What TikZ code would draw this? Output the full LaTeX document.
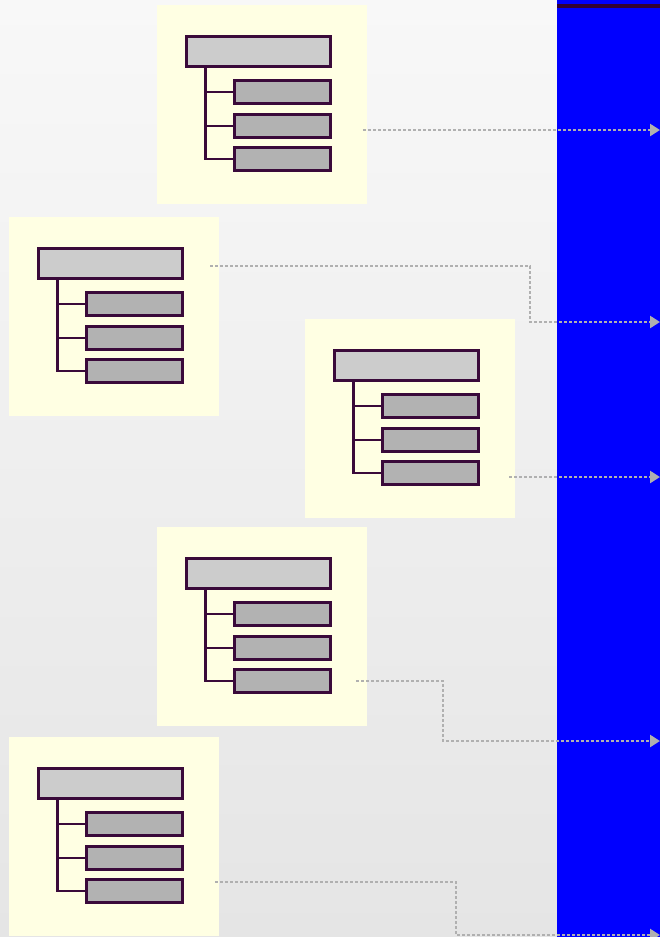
\documentclass[tikz,border=0pt]{standalone}
\usetikzlibrary{arrows.meta}
\definecolor{bgtop}{HTML}{F8F8F8}
\definecolor{bgbot}{HTML}{E5E5E5}
\definecolor{panelyellow}{HTML}{FFFFE3}
\definecolor{boxline}{HTML}{3A0A3A}
\definecolor{headfill}{HTML}{CCCCCC}
\definecolor{childfill}{HTML}{B2B2B2}
\definecolor{linkgray}{HTML}{B0B0B0}
\definecolor{sideblue}{HTML}{0000FF}
\definecolor{topbar}{HTML}{330033}
\begin{document}
\begin{tikzpicture}[x=1pt,y=-1pt,
 panel/.style={fill=panelyellow, draw=none, anchor=north west, minimum width=210pt, minimum height=199pt, inner sep=0pt, outer sep=0pt},
 headbox/.style={draw=boxline, line width=2.4pt, fill=headfill, anchor=north west, minimum width=144pt, minimum height=30pt, inner sep=0pt, outer sep=0pt},
 childbox/.style={draw=boxline, line width=2.4pt, fill=childfill, anchor=north west, minimum width=96pt, minimum height=23pt, inner sep=0pt, outer sep=0pt},
 treeline/.style={draw=boxline, line width=2.4pt},
 link/.style={draw=linkgray, line width=2.5pt, dash pattern=on 2.5pt off 2.5pt, -{Triangle[length=10pt,width=12pt,fill=linkgray,sep=0pt]}}
]
\useasboundingbox (0,0) rectangle (660,937);
\clip (0,0) rectangle (660,937);
\shade[top color=bgtop, bottom color=bgbot] (0,0) rectangle (557,937);
\fill[sideblue] (557,0) rectangle (660,937);
\fill[topbar] (557,4) rectangle (660,8);

\foreach \i/\px/\py in {1/157/5, 2/9/217, 3/305/319, 4/157/527, 5/9/737} {
  \node[panel] (p\i) at (\px,\py) {};
  \node[headbox] (h\i) at (\px+29.5,\py+31.5) {};
  \node[childbox] (a\i) at (\px+77.5,\py+75.5) {};
  \node[childbox] (b\i) at (\px+77.5,\py+109.5) {};
  \node[childbox] (c\i) at (\px+77.5,\py+142.5) {};
  \draw[treeline] ([xshift=19pt]h\i.south west) |- (c\i.west);
  \draw[treeline] ([xshift=-29pt]a\i.west) -- (a\i.west);
  \draw[treeline] ([xshift=-29pt]b\i.west) -- (b\i.west);
}

\coordinate (s1) at (363,130);
\coordinate (e1) at (660,130);
\draw[link] (s1) -- (e1);

\coordinate (s2) at (210,266);
\coordinate (k2) at (530,322);
\coordinate (e2) at (660,322);
\draw[link] (s2) -| (k2) -- (e2);

\coordinate (s3) at (509,477);
\coordinate (e3) at (660,477);
\draw[link] (s3) -- (e3);

\coordinate (s4) at (356,681);
\coordinate (k4) at (443,741);
\coordinate (e4) at (660,741);
\draw[link] (s4) -| (k4) -- (e4);

\coordinate (s5) at (215,882);
\coordinate (k5) at (456,935);
\coordinate (e5) at (660,935);
\draw[link] (s5) -| (k5) -- (e5);
\end{tikzpicture}
\end{document}
